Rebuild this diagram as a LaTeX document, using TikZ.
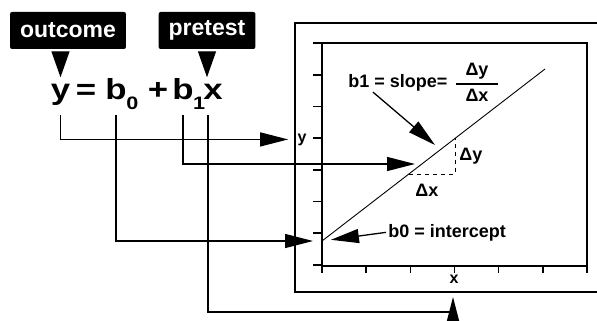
\documentclass[tikz,border=0pt]{standalone}
\usepackage{amsmath}
\usepackage{fontspec}
\setmainfont{Liberation Sans}
\newfontfamily\eqfont{Liberation Sans}[FakeStretch=1.2]
\usetikzlibrary{arrows.meta,calc}
\tikzset{
  tagbox/.style={
    fill=black,
    text=white,
    rounded corners=1pt,
    minimum height=18.5pt,
    inner xsep=5pt,
    font=\bfseries\fontsize{11.5}{12}\selectfont
  },
  eqtext/.style={
    inner sep=0pt,
    anchor=base,
    text depth=0pt,
    font=\eqfont\bfseries\fontsize{14.5}{16}\selectfont
  },
  eqsub/.style={
    inner sep=0pt,
    anchor=base,
    font=\eqfont\bfseries\fontsize{9}{10}\selectfont
  },
  lbl/.style={
    inner sep=0pt,
    anchor=base west,
    font=\bfseries\fontsize{9}{10}\selectfont
  },
  axlbl/.style={
    inner sep=0pt,
    anchor=base,
    font=\bfseries\fontsize{8}{9}\selectfont
  },
  frame/.style={line width=0.8pt},
  wire/.style={line width=0.65pt},
  bigarrow/.style={wire, -{Triangle[length=14pt,width=7pt]}},
  droparrow/.style={wire, -{Triangle[length=13pt,width=9pt]}},
  uparrow/.style={wire, -{Triangle[length=12pt,width=6pt]}}
}

\begin{document}
\begin{tikzpicture}[x=0.5pt,y=-0.5pt]
\useasboundingbox (0,0) rectangle (597,320);

% tags and equation
\node[tagbox] (outcome) at (68,30.5) {outcome};
\node[tagbox] (pretest) at (207,30.5) {pretest};
\node[eqtext] (eqy) at (60.5,100) {y};
\node[eqtext] (eqeq) at (86,100) {=};
\node[eqtext] (eqbzero) at (116,100) {b};
\node[eqsub] (subzero) at (132.5,110) {0};
\node[eqtext] (eqplus) at (158,100) {+};
\node[eqtext] (eqbone) at (183,100) {b};
\node[eqsub] (subone) at (199,110) {1};
\node[eqtext] (eqx) at (213,100) {x};

% plot
\draw[frame] (605,23) -| (295,292) -- (605,292);
\draw[frame] (322,43) rectangle (587,266);
\foreach \i in {0,...,7}
  \draw[frame] (313,{43+\i*31.714}) -- (322,{43+\i*31.714});
\foreach \i in {0,...,6}
  \draw[frame] ({322+\i*44.167},266) -- ({322+\i*44.167},273);

\coordinate (icpt) at (322,241);
\coordinate (lineend) at (545,69);
\coordinate (slopept) at (422,164);
\coordinate (slopetip) at (435,145);
\coordinate (dxstart) at (409,174);
\coordinate (dcorner) at (455,174);
\coordinate (dyend) at (455,138);
\coordinate (xturn) at (453,312);
\coordinate (xbase) at (453,321);
\coordinate (xtip) at (453,297);

\draw[line width=0.45pt] (icpt) -- (lineend);
\draw[line width=0.5pt, dash pattern=on 2pt off 2pt] (dxstart) -- (dcorner) -- (dyend);

\node[axlbl] (ylabel) at (302,142) {y};
\node[axlbl] (xlabel) at (454,283) {x};
\node[lbl] (slopelabel) at (348,88) {b1 = slope=};
\node[inner sep=0pt, anchor=base, font=\bfseries\fontsize{9}{10}\selectfont] (slopefrac) at (477,88.5)
  {$\genfrac{}{}{0.7pt}{0}{\mbox{\hspace{5pt}Δy\hspace{5pt}}}{\mbox{Δx}}$};
\node[lbl] (icptlabel) at (388,237) {b0 = intercept};
\node[lbl] (dylabel) at (459,160) {Δy};
\node[lbl] (dxlabel) at (415,196) {Δx};

% connectors
\draw[droparrow, shorten <=1.5pt, shorten >=3.5pt] (outcome.south -| eqy.north) -- (eqy.north);
\draw[droparrow, shorten <=1.5pt, shorten >=3.5pt] (pretest.south) -- (pretest.south |- eqx.north);
\draw[bigarrow, shorten >=4.5pt] ([yshift=-7.5pt]eqy.south) |- (ylabel.west);
\draw[bigarrow, shorten >=4.5pt] ([yshift=-7.5pt]eqbzero.south) |- (icpt);
\draw[bigarrow, shorten >=3.5pt] ([yshift=-7.5pt]eqbone.south) |- (slopept);
\draw[wire] ([yshift=-7.5pt,xshift=-2.5pt]eqx.south) |- (xturn);
\draw[uparrow] (xbase) -- (xtip);
\draw[bigarrow] ([xshift=12.5pt]slopelabel.south west) -- (slopetip);
\draw[bigarrow, shorten >=4.5pt] ([xshift=-1pt]icptlabel.west) -- (icpt);
\end{tikzpicture}
\end{document}
